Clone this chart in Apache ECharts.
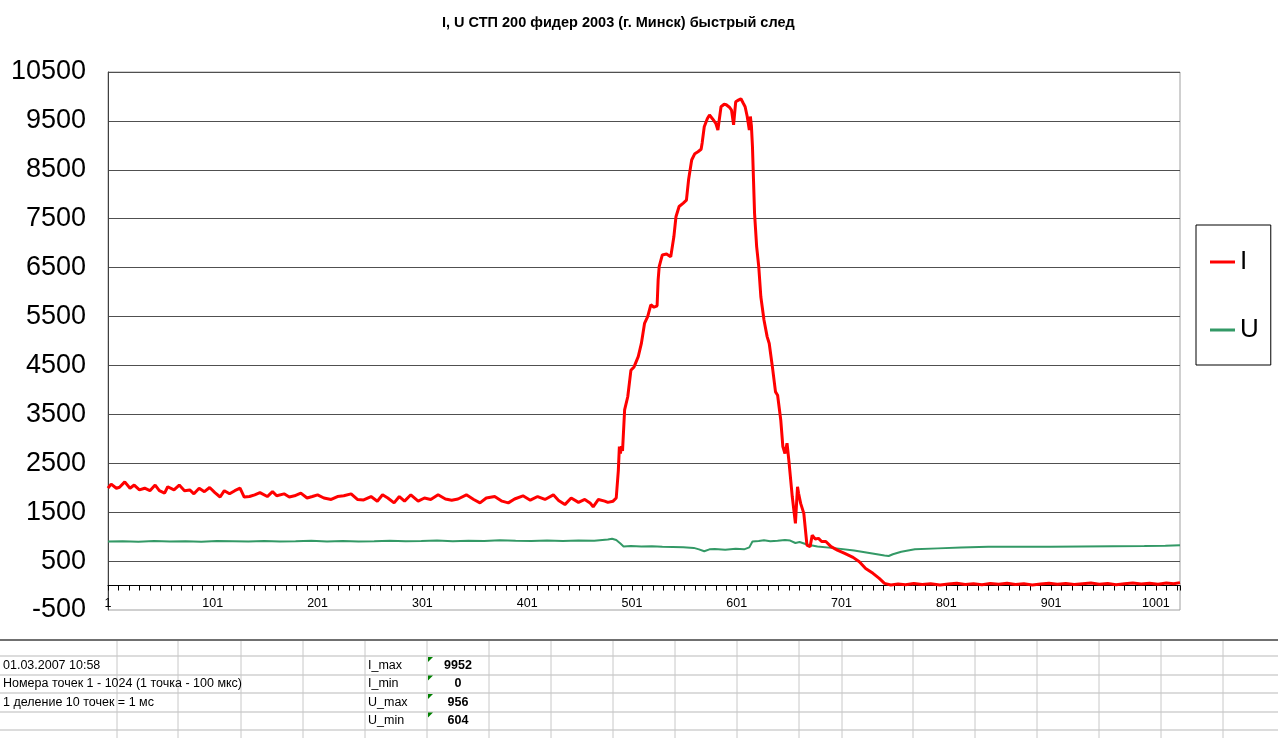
<!DOCTYPE html>
<html><head><meta charset="utf-8">
<script src="https://cdn.jsdelivr.net/npm/echarts@6/dist/echarts.min.js"></script>
<style>html,body{margin:0;padding:0;background:#fff}#c{width:1278px;height:738px}</style>
</head><body><div id="c"></div>
<script>
const chartTitle = 'I, U СТП 200 фидер 2003 (г. Минск) быстрый след';
const seriesNames = ['I', 'U'];

// Current I: point numbers and values
const iPoint = [1,4,9,12,17,22,26,31,36,41,46,50,55,58,64,69,74,79,83,88,93,98,103,108,112,117,122,127,131,136,141,146,153,158,162,169,174,179,185,191,196,201,207,214,220,226,233,239,245,252,258,263,268,274,279,284,290,297,303,309,316,323,329,335,343,350,356,362,370,377,383,389,397,404,411,418,426,431,437,443,450,456,461,464,469,475,478,483,486,
487,488,489,490,491,492,494,497,500,503,507,510,513,516,519,522,525,526,527,530,534,538,541,543,546,550,553,555,558,561,564,567,568,570,573,575,578,581,583,586,589,591,594,596,598,600,603,605,607,609,611,613,614,615,616,617,618,620,622,624,627,630,632,635,638,640,643,645,647,649,651,654,657,659,660,662,665,668,671,673,676,679,682,686,691,697,704,712,718,724,731,737,742,
748,755,762,770,778,786,795,803,811,819,827,835,843,851,859,867,875,883,891,899,907,915,923,931,939,947,955,963,971,979,987,995,1003,1011,1018,1024];
const iValue = [1990,2075,1990,2010,2120,1990,2055,1955,1990,1940,2055,1940,1890,2020,1955,2055,1940,1955,1875,1990,1920,2005,1900,1810,1940,1875,1940,1990,1810,1820,1855,1900,1820,1920,1835,1875,1810,1835,1890,1790,1820,1855,1790,1760,1820,1835,1875,1760,1750,1820,1725,1855,1790,1690,1820,1725,1855,1725,1790,1760,1855,1770,1745,1770,1855,1760,1690,1790,1820,1725,1690,1770,1835,1745,1820,1760,1855,1740,1655,1790,1700,1760,1690,1610,1760,1725,1700,1725,1790,
1790,2350,2840,2700,2850,2750,3590,3860,4400,4470,4680,4950,5360,5500,5740,5690,5720,6250,6520,6760,6780,6720,7130,7540,7750,7820,7880,8290,8700,8830,8870,8920,9050,9380,9550,9620,9540,9450,9315,9790,9840,9830,9780,9720,9420,9890,9930,9952,9870,9790,9590,9315,9590,9400,8975,8290,7610,6930,6520,5905,5430,5090,4950,4475,3960,3890,3385,2840,2700,2910,2500,1815,1270,2020,1885,1680,1475,828,795,1030,950,965,900,900,795,725,658,576,487,350,250,147,45,
10,30,15,40,20,35,10,30,45,20,35,15,40,25,45,20,35,10,30,45,25,40,20,35,50,25,40,15,35,50,30,45,25,50,35,60];

// Voltage U: point numbers and values
const uPoint = [1,15,30,45,60,75,90,105,120,135,150,165,180,195,210,225,240,255,270,285,300,315,330,345,360,375,390,405,420,435,450,465,478,482,486,490,493,500,510,520,530,540,550,560,565,570,575,580,590,600,608,613,616,622,627,633,640,647,652,657,661,668,678,694,713,729,742,746,750,758,771,793,815,841,870,900,930,960,990,1010,1024];
const uValue = [900,905,895,910,900,905,895,910,905,900,910,900,905,915,900,910,900,905,915,905,910,920,905,915,910,925,915,910,920,910,920,915,940,956,930,860,800,810,800,805,795,790,785,770,740,700,740,745,730,750,740,780,900,910,925,905,915,930,920,870,890,840,800,765,715,660,615,604,640,690,740,760,780,795,795,795,800,805,810,815,825];

// Spreadsheet block below the chart
const infoLeft = ['01.03.2007 10:58', 'Номера точек 1 - 1024 (1 точка - 100 мкс)', '1 деление 10 точек = 1 мс', ''];
const statNames = ['I_max', 'I_min', 'U_max', 'U_min'];
const statValues = ['9952', '0', '956', '604'];

const iData = iPoint.map((p, k) => [p, iValue[k]]);
const uData = uPoint.map((p, k) => [p, uValue[k]]);

const FONT = 'Liberation Sans';
const rowLines = [656, 675, 693, 712, 730];
const colLines = [117, 178, 241, 303, 365, 427, 489, 551, 613, 675, 737, 799, 842, 913, 975, 1037, 1099, 1161, 1223];
const rowCenters = [665.5, 684, 702.5, 721];

const graphics = [];
graphics.push({type:'rect', shape:{x:0,y:641,width:1278,height:97}, style:{fill:'#ffffff'}, silent:true, z:0});
rowLines.forEach(y => graphics.push({type:'line', shape:{x1:0,y1:y,x2:1278,y2:y}, style:{stroke:'#d0d0d0', lineWidth:1.5}, silent:true}));
colLines.forEach(x => graphics.push({type:'line', shape:{x1:x,y1:641,x2:x,y2:738}, style:{stroke:'#c8c8c8', lineWidth:1}, silent:true}));
graphics.push({type:'line', shape:{x1:0,y1:640,x2:1278,y2:640}, style:{stroke:'#707070', lineWidth:2}, silent:true});
infoLeft.forEach((t, k) => { if (t) graphics.push({type:'text', x:3, y:rowCenters[k], style:{text:t, font:'12.5px "'+FONT+'"', fill:'#000', verticalAlign:'middle', textAlign:'left'}, silent:true}); });
statNames.forEach((t, k) => {
  graphics.push({type:'text', x:368, y:rowCenters[k], style:{text:t, font:'12.5px "'+FONT+'"', fill:'#000', verticalAlign:'middle', textAlign:'left'}, silent:true});
  graphics.push({type:'text', x:458, y:rowCenters[k], style:{text:statValues[k], font:'bold 12.5px "'+FONT+'"', fill:'#000', verticalAlign:'middle', textAlign:'center'}, silent:true});
  const ty = rowCenters[k] - 8.5;
  graphics.push({type:'polygon', shape:{points:[[428,ty],[433,ty],[428,ty+5]]}, style:{fill:'#008000'}, silent:true});
});

const chart = echarts.init(document.getElementById('c'), null, {renderer:'canvas'});
chart.setOption({
  backgroundColor: '#ffffff',
  animation: false,
  title: {
    text: chartTitle, left: 437, top: 10,
    textStyle: {fontFamily: FONT, fontSize: 14.5, fontWeight: 'bold', color: '#000'}
  },
  legend: {
    data: seriesNames, orient: 'vertical', left: 1196, top: 225,
    padding: [23, 12, 21, 14], itemGap: 40, itemWidth: 25, itemHeight: 3, icon: 'rect',
    borderColor: '#000', borderWidth: 1,
    textStyle: {fontFamily: FONT, fontSize: 26, color: '#000', lineHeight: 28}
  },
  grid: {left: 108, top: 72, width: 1072, height: 538, show: true, borderColor: '#a0a0a0', borderWidth: 1},
  xAxis: {
    type: 'value', min: 1, max: 1024, interval: 100,
    axisLine: {onZero: true, lineStyle: {color: '#000', width: 1}},
    axisTick: {show: true, length: 5, lineStyle: {color: '#000'}},
    minorTick: {show: true, splitNumber: 10, length: 5, lineStyle: {color: '#000'}},
    axisLabel: {fontFamily: FONT, fontSize: 12.5, color: '#000', margin: -13, showMaxLabel: false, formatter: v => String(v)},
    splitLine: {show: false}
  },
  yAxis: {
    type: 'value', min: -500, max: 10500, interval: 1000,
    axisLine: {show: true, lineStyle: {color: '#404040', width: 1}},
    axisTick: {show: false},
    axisLabel: {fontFamily: FONT, fontSize: 27, color: '#000', margin: 22, formatter: v => String(v)},
    splitLine: {show: true, showMinLine: false, lineStyle: {color: '#505050', width: 1}}
  },
  series: [
    {name: 'I', type: 'line', data: iData, symbol: 'none', lineStyle: {color: '#ff0000', width: 3}, itemStyle: {color: '#ff0000'}, z: 3},
    {name: 'U', type: 'line', data: uData, symbol: 'none', lineStyle: {color: '#339966', width: 2}, itemStyle: {color: '#339966'}, z: 2}
  ],
  graphic: graphics
});
</script></body></html>
